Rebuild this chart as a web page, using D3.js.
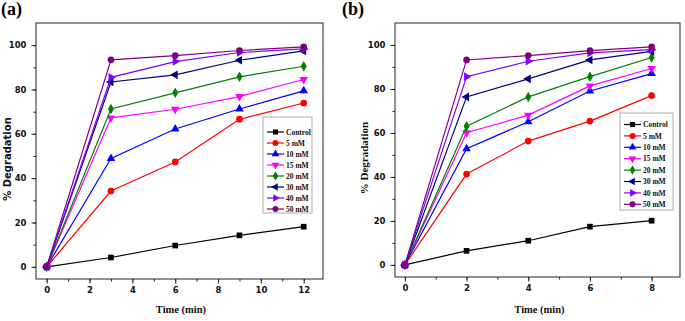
<!DOCTYPE html>
<html>
<head>
<meta charset="utf-8">
<script src="https://cdn.jsdelivr.net/npm/d3@7"></script>
<style>
  body { margin: 0; background: #fff; }
  svg { display: block; }
</style>
</head>
<body>
<svg id="chart" width="685" height="321"></svg>
<script>
// Series labels shared by both panels.
const seriesNames = ["Control", "5 mM", "10 mM", "15 mM", "20 mM", "30 mM", "40 mM", "50 mM"];

// Panel (a): time points and % degradation per series.
const timesA = [0, 3, 6, 9, 12];
const degradationA = [
  [0, 4.2, 9.6, 14.2, 18.1],
  [0, 34.2, 47.3, 66.6, 73.9],
  [0, 48.9, 62.2, 71.2, 79.4],
  [0, 67.2, 71.1, 76.8, 84.5],
  [0, 71.2, 78.5, 85.7, 90.5],
  [0, 83.4, 86.6, 93.2, 97.4],
  [0, 85.5, 92.6, 96.7, 98.3],
  [0, 93.4, 95.3, 97.6, 99.2]
];

// Panel (b)
const timesB = [0, 2, 4, 6, 8];
const degradationB = [
  [0, 6.4, 11.0, 17.4, 20.1],
  [0, 41.3, 56.3, 65.4, 77.0],
  [0, 52.8, 65.1, 79.1, 87.0],
  [0, 60.1, 68.1, 81.4, 89.3],
  [0, 63.1, 76.4, 85.6, 94.3],
  [0, 76.4, 84.6, 93.2, 97.1],
  [0, 85.6, 92.6, 96.4, 97.9],
  [0, 93.2, 95.2, 97.4, 99.1]
];

const xTicksA = [0, 2, 4, 6, 8, 10, 12];
const xTicksB = [0, 2, 4, 6, 8];
const yTicks = [0, 20, 40, 60, 80, 100];

// styling
const colors = ["#000000", "#ff0000", "#0000ff", "#ff00ff", "#008000", "#000080", "#8000ff", "#800080"];
const shapes = ["square", "circle", "up", "down", "diamond", "left", "right", "circle"];

const svg = d3.select("#chart");

function markerPath(shape, size) {
  const tri = d3.symbol(d3.symbolTriangle, size)();
  switch (shape) {
    case "square": return { d: d3.symbol(d3.symbolSquare, size)(), rot: 0 };
    case "circle": return { d: d3.symbol(d3.symbolCircle, size * 1.1)(), rot: 0 };
    case "diamond": return { d: d3.symbol(d3.symbolDiamond, size)(), rot: 0 };
    case "up": return { d: tri, rot: 0 };
    case "down": return { d: tri, rot: 180 };
    case "left": return { d: tri, rot: -90 };
    case "right": return { d: tri, rot: 90 };
  }
}

function drawPanel(cfg) {
  const g = svg.append("g");
  const x = d3.scaleLinear().domain(cfg.xDomain).range([cfg.left, cfg.right]);
  const y = d3.scaleLinear().domain([-5.5, 110]).range([cfg.bottom, cfg.top]);

  // frame
  g.append("rect")
    .attr("x", cfg.left).attr("y", cfg.top)
    .attr("width", cfg.right - cfg.left).attr("height", cfg.bottom - cfg.top)
    .attr("fill", "none").attr("stroke", "#222").attr("stroke-width", 1);

  // x axis
  const xMinor = d3.range(cfg.xTicks[0], cfg.xTicks[cfg.xTicks.length - 1] + 0.01, (cfg.xTicks[1] - cfg.xTicks[0]) / 2);
  g.append("g").attr("transform", `translate(0,${cfg.bottom})`)
    .call(d3.axisBottom(x).tickValues(xMinor).tickSize(2.5).tickFormat(""))
    .call(a => a.select(".domain").remove());
  g.append("g").attr("transform", `translate(0,${cfg.bottom})`)
    .call(d3.axisBottom(x).tickValues(cfg.xTicks).tickSize(4.5).tickPadding(3))
    .call(a => a.select(".domain").remove())
    .call(a => a.selectAll("text").attr("font-family", "DejaVu Sans").attr("font-weight", "bold").attr("font-size", 8.5).attr("fill", "#111"));

  // y axis
  g.append("g").attr("transform", `translate(${cfg.left},0)`)
    .call(d3.axisLeft(y).tickValues(d3.range(0, 101, 10)).tickSize(2.5).tickFormat(""))
    .call(a => a.select(".domain").remove());
  g.append("g").attr("transform", `translate(${cfg.left},0)`)
    .call(d3.axisLeft(y).tickValues(yTicks).tickSize(4.5).tickPadding(5))
    .call(a => a.select(".domain").remove())
    .call(a => a.selectAll("text").attr("font-family", "DejaVu Sans").attr("font-weight", "bold").attr("font-size", 8.5).attr("fill", "#111"));
  g.selectAll(".tick line").attr("stroke", "#222");

  // series
  const line = d3.line().x(d => x(d[0])).y(d => y(d[1]));
  cfg.values.forEach((vals, i) => {
    const pts = cfg.times.map((t, j) => [t, vals[j]]);
    g.append("path").datum(pts)
      .attr("d", line).attr("fill", "none")
      .attr("stroke", colors[i]).attr("stroke-width", 1.2);
    const m = markerPath(shapes[i], 32);
    g.selectAll(null).data(pts).join("path")
      .attr("d", m.d)
      .attr("transform", d => `translate(${x(d[0])},${y(d[1])}) rotate(${m.rot})`)
      .attr("fill", colors[i]);
  });

  // legend
  const L = cfg.legend;
  g.append("rect").attr("x", L.x).attr("y", L.y).attr("width", L.w).attr("height", L.h)
    .attr("fill", "#fff").attr("stroke", "#999").attr("stroke-width", 0.8);
  seriesNames.forEach((name, i) => {
    const yy = L.first + i * L.step;
    const x0 = L.x + 4, x1 = x0 + 17;
    g.append("line").attr("x1", x0).attr("x2", x1).attr("y1", yy).attr("y2", yy)
      .attr("stroke", colors[i]).attr("stroke-width", 1.2);
    const m = markerPath(shapes[i], 26);
    g.append("path").attr("d", m.d)
      .attr("transform", `translate(${(x0 + x1) / 2},${yy}) rotate(${m.rot})`)
      .attr("fill", colors[i]);
    g.append("text").attr("x", x1 + 2).attr("y", yy + 2.7)
      .attr("font-family", "Liberation Serif").attr("font-weight", "bold")
      .attr("font-size", 7.5).attr("fill", "#111").text(name);
  });

  // titles
  g.append("text").attr("x", cfg.tag[0]).attr("y", cfg.tag[1])
    .attr("font-family", "Liberation Serif").attr("font-weight", "bold")
    .attr("font-size", 18).text(cfg.tagText);
  g.append("text").attr("x", (cfg.left + cfg.right) / 2 + cfg.xlabOff).attr("y", 313)
    .attr("text-anchor", "middle")
    .attr("font-family", "Liberation Serif").attr("font-weight", "bold")
    .attr("font-size", 10.5).attr("fill", "#111").text("Time (min)");
  g.append("text")
    .attr("transform", `translate(${cfg.ylab[0]},${cfg.ylab[1]}) rotate(-90)`)
    .attr("text-anchor", "middle")
    .attr("font-family", cfg.ylabFont).attr("font-weight", "bold")
    .attr("font-size", cfg.ylabSize).attr("fill", "#111").text("% Degradation");
}

drawPanel({
  left: 36, right: 323, top: 23, bottom: 279,
  xDomain: [-0.5, 12.9], xTicks: xTicksA, times: timesA, values: degradationA,
  legend: { x: 263, y: 117, w: 49, h: 96, first: 132, step: 11 },
  tag: [1, 15], tagText: "(a)", xlabOff: 1.5,
  ylab: [11, 159], ylabFont: "DejaVu Sans", ylabSize: 10
});

drawPanel({
  left: 395, right: 680, top: 23, bottom: 277,
  xDomain: [-0.32, 8.92], xTicks: xTicksB, times: timesB, values: degradationB,
  legend: { x: 620, y: 113, w: 53, h: 97, first: 124.5, step: 11.4 },
  tag: [342, 15], tagText: "(b)", xlabOff: 2,
  ylab: [368, 158], ylabFont: "Liberation Serif", ylabSize: 11
});
</script>
</body>
</html>
